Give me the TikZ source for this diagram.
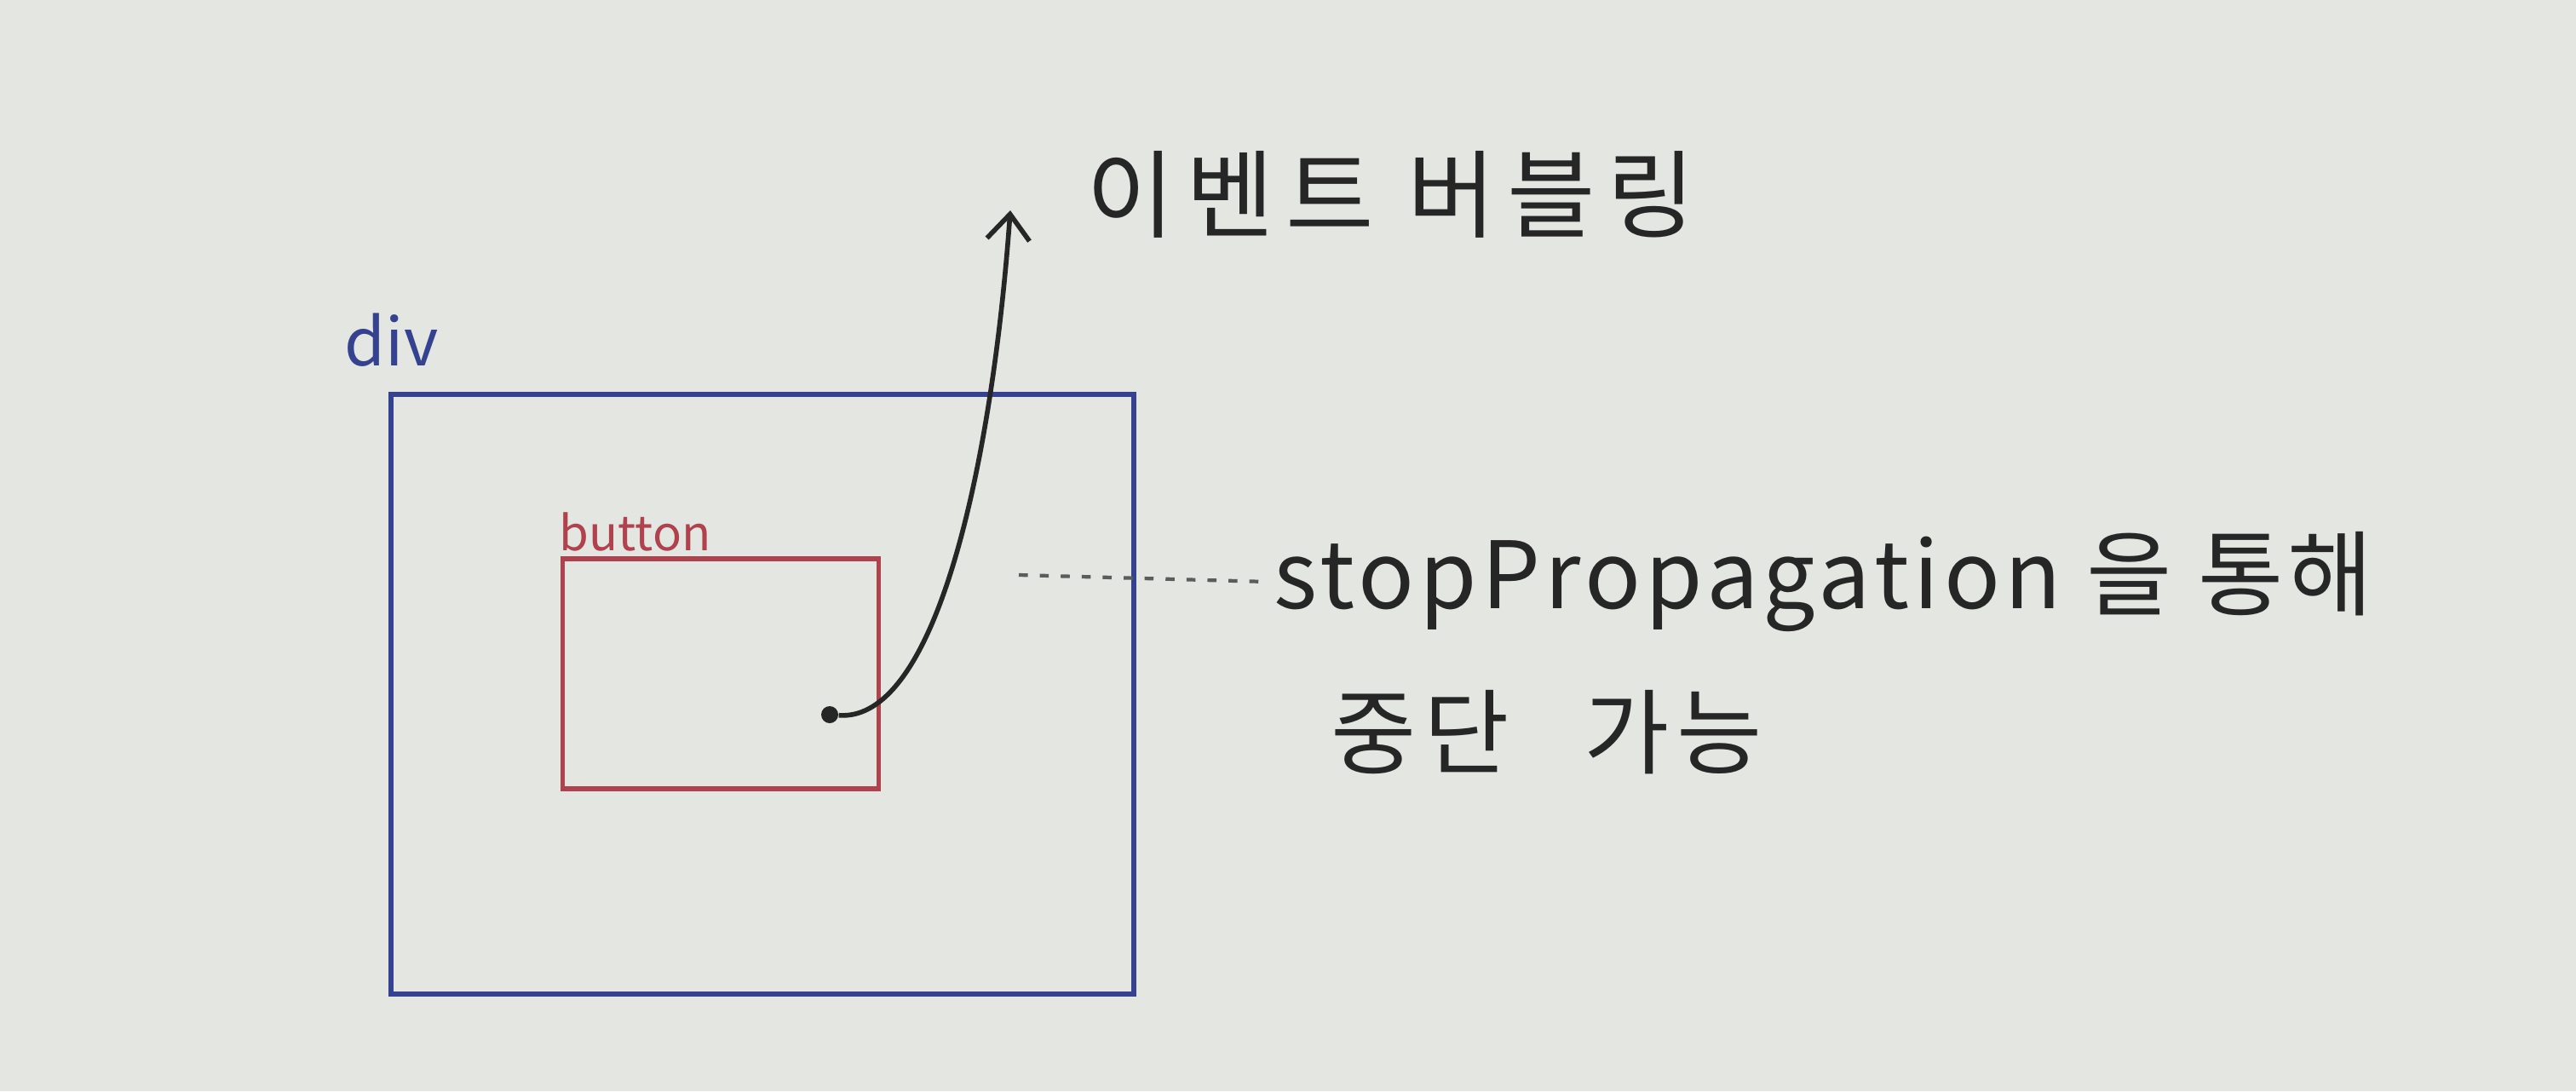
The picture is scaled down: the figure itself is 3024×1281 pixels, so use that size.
\documentclass[tikz,border=0pt]{standalone}
\usepackage{fontspec}
\setmainfont{Noto Sans CJK KR}
\usepackage{xcolor}
\usetikzlibrary{calc, positioning, arrows.meta}

\definecolor{paper}{HTML}{E4E6E2}
\definecolor{divblue}{HTML}{34428F}
\definecolor{btnred}{HTML}{B0424E}
\definecolor{ink}{HTML}{262626}

\begin{document}
\begin{tikzpicture}[
  x=0.01cm, y=-0.01cm,
  font=\fontsize{30}{36}\selectfont,
  divbox/.style={draw=divblue, line width=1.8pt, inner sep=0pt, minimum width=8.72cm, minimum height=7.04cm},
  btnbox/.style={draw=btnred, line width=1.6pt, inner sep=0pt, minimum width=3.71cm, minimum height=2.70cm},
  tag/.style={inner sep=1pt, anchor=south west},
  note/.style={text=ink, anchor=west, inner sep=2pt},
  bubble/.style={draw=ink, line width=1.6pt, -{Straight Barb[length=3mm, width=5mm]}},
  stopline/.style={draw=ink!75, line width=1.2pt, dash pattern=on 3pt off 4pt}
]

% paper
\fill[paper] (0,0) rectangle (3024,1281);
\useasboundingbox (0,0) rectangle (3024,1281);

% boxes
\node[divbox] (div) at (895,815) {};
\node[btnbox] (btn) at (846,791) {};
\node[tag, text=divblue, font=\fontsize{22}{26}\selectfont] (divlbl) at ([xshift=-0.55cm, yshift=0.25cm]div.north west) {div};
\node[tag, text=btnred, font=\fontsize{16}{20}\selectfont] (btnlbl) at ([xshift=-0.05cm, yshift=0.02cm]btn.north west) {button};

% event bubbling
\node[circle, fill=ink, inner sep=0pt, minimum size=0.2cm] (dot) at (974,839) {};
\node[note, font=\fontsize{32}{38}\selectfont\addfontfeatures{LetterSpace=12}] (bubtxt) at (1268,228) {이벤트 버블링};
\coordinate (tip) at (1186,247);
\draw[bubble] (dot) .. controls (1100,848) and (1165,540) .. (tip);

% stopPropagation
\node[note, font=\fontsize{31}{37}\selectfont\addfontfeatures{LetterSpace=5}] (stoptxt) at (1488,683) {stopPropagation 을 통해};
\node[note, font=\fontsize{31}{37}\selectfont\addfontfeatures{LetterSpace=8}] (halt) at (1555,860) {중단\hspace{0.8em}가능};
\coordinate (dashstart) at (1196,675);
\draw[stopline] (dashstart) -- (stoptxt.west);

\end{tikzpicture}
\end{document}
